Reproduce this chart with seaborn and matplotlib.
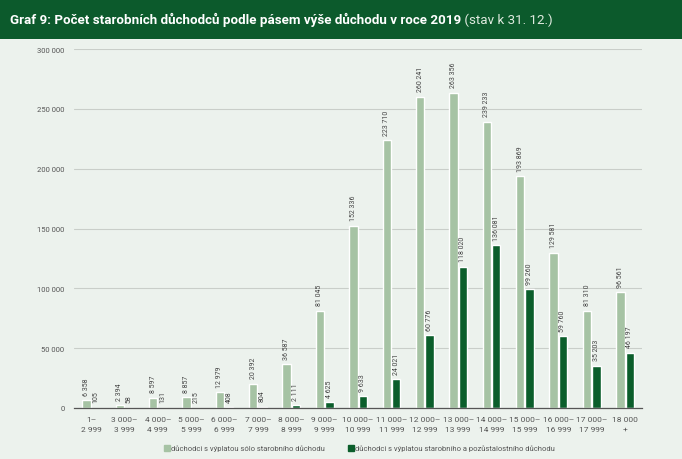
import matplotlib
matplotlib.use("Agg")
import matplotlib.pyplot as plt
import seaborn as sns
import pandas as pd
from matplotlib.patches import Rectangle
from matplotlib.lines import Line2D

categories = ["1–\n2 999", "3 000–\n3 999", "4 000–\n4 999", "5 000–\n5 999", "6 000–\n6 999",
              "7 000–\n7 999", "8 000–\n8 999", "9 000–\n9 999", "10 000–\n10 999", "11 000–\n11 999",
              "12 000–\n12 999", "13 000–\n13 999", "14 000–\n14 999", "15 000–\n15 999",
              "16 000–\n16 999", "17 000–\n17 999", "18 000\n+"]
solo = [6358, 2394, 8597, 8857, 12979, 20392, 36587, 81045, 152336, 223710, 260241,
        263356, 239233, 193869, 129581, 81310, 96561]
combined = [105, 58, 131, 215, 408, 804, 2111, 4625, 9633, 24021, 60776, 118020,
            136081, 99260, 59760, 35203, 46197]
series_names = ["důchodci s výplatou sólo starobního důchodu",
                "důchodci s výplatou starobního a pozůstalostního důchodu"]
yticks = [0, 50000, 100000, 150000, 200000, 250000, 300000]
title_bold = "Graf 9: Počet starobních důchodců podle pásem výše důchodu v roce 2019"
title_regular = " (stav k 31. 12.)"

BG = "#ecf2ed"
LIGHT = "#a6c3a4"
DARK = "#0b5e2b"
BANNER = "#0c5a2c"
TXT = "#555555"

df = pd.DataFrame({
    "cat": categories * 2,
    "value": solo + combined,
    "series": [series_names[0]] * len(categories) + [series_names[1]] * len(categories),
})

sns.set_theme(style="white")
plt.rcParams["font.family"] = ["Roboto", "DejaVu Sans"]

fig = plt.figure(figsize=(6.82, 4.60), dpi=100, facecolor=BG)
ax = fig.add_axes([0.109, 0.111, 0.832, 0.780])
ax.set_facecolor(BG)

sns.barplot(data=df, x="cat", y="value", hue="series", order=categories,
            hue_order=series_names, palette=[LIGHT, DARK], width=0.56, gap=0.1,
            ax=ax, legend=False, saturation=1)

def fmt(v):
    return f"{int(round(v)):,}".replace(",", " ")

for cont in ax.containers:
    ax.bar_label(cont, labels=[fmt(v) for v in cont.datavalues], rotation=90,
                 padding=4, fontsize=5, color="#444444")

ax.set_ylim(0, 300000)
ax.set_xlim(-0.5, len(categories) - 0.5)
ax.set_yticks(yticks)
ax.set_yticklabels([fmt(v) for v in yticks], fontsize=5.5, color=TXT)
ax.tick_params(axis="y", length=0, pad=7)
ax.tick_params(axis="x", length=0, pad=6, labelsize=6, labelcolor=TXT)
for lbl in ax.get_xticklabels():
    lbl.set_linespacing(1.7)
ax.set_xlabel("")
ax.set_ylabel("")
ax.grid(axis="y", color="#c9cec9", linewidth=0.8)
ax.set_axisbelow(True)
for s in ["top", "right", "left"]:
    ax.spines[s].set_visible(False)
ax.spines["bottom"].set_color("#555555")
ax.spines["bottom"].set_linewidth(0.9)

# banner
fig.patches.append(Rectangle((0, 1 - 40 / 460), 1, 40 / 460, transform=fig.transFigure,
                             facecolor=BANNER, edgecolor="none", zorder=0))
t1 = fig.text(10 / 682, 1 - 20 / 460, title_bold, color="white", fontsize=9.6,
              fontweight="bold", va="center", ha="left")
fig.canvas.draw()
bb = t1.get_window_extent()
x2 = bb.x1 / fig.bbox.width
fig.text(x2, 1 - 20 / 460, title_regular, color="#dfeadf", fontsize=9.6,
         va="center", ha="left")

handles = [Line2D([], [], marker="s", linestyle="none", markersize=4, color=c) for c in [LIGHT, DARK]]
fig.legend(handles, series_names, loc="center", bbox_to_anchor=(0.527, 1 - 449 / 460), ncol=2,
           frameon=False, fontsize=5.5, labelcolor=TXT, handletextpad=0.1, columnspacing=3,
           handlelength=0.8)

fig.savefig("out.png", dpi=100, facecolor=BG)
